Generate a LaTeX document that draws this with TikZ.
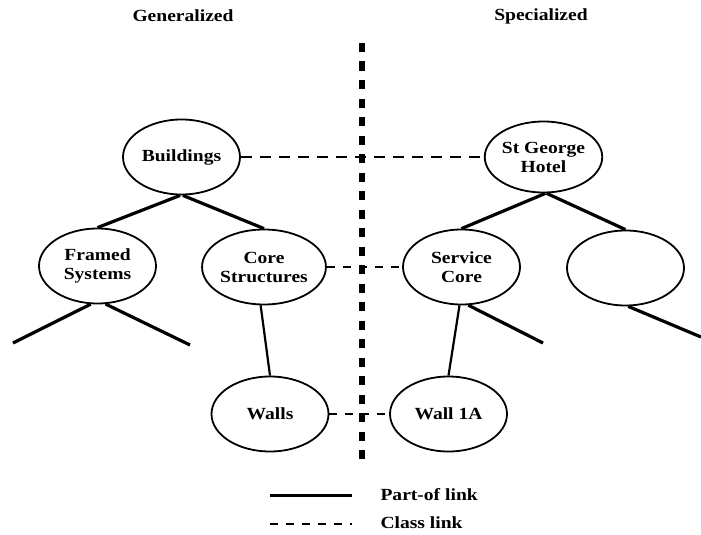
\documentclass[tikz,border=0pt]{standalone}
\usepackage{fontspec}
\setmainfont{Liberation Serif}[FakeStretch=1.15]
\usetikzlibrary{shapes.geometric}
\begin{document}
\begin{tikzpicture}[x=1pt,y=-1pt,
  every node/.style={font=\bfseries\fontsize{17}{19}\selectfont, align=center},
  concept/.style={ellipse, draw, line width=1.8pt, inner sep=0pt,
    minimum width=117pt, minimum height=75pt},
  partof/.style={line width=3.2pt},
  thinpart/.style={line width=2.2pt},
  classlink/.style={line width=2pt, dash pattern=on 8pt off 8pt},
  divider/.style={line width=6.5pt, dash pattern=on 9pt off 9.5pt}]
\useasboundingbox (0,0) rectangle (701,535);

% column headings
\node (gen) at (183,16) {Generalized};
\node (spec) at (541,16) {Specialized};

% boundary between the generalized and specialized sides
\coordinate (divtop) at (362,43);
\coordinate (divbot) at (362,462);
\draw[divider] (divtop) -- (divbot);

% concept nodes
\node[concept] (bld) at (181.5,157) {Buildings};
\node[concept, minimum height=71pt] (stg) at (543.5,157) {St George\\Hotel};
\node[concept] (fra) at (97.5,266) {Framed\\Systems};
\node[concept] (cor) at (264,267) {Core\\Structures};
\node[concept] (svc) at (461.5,267) {Service\\Core};
\node[concept] (emp) at (625.5,268) {};
\node[concept] (wal) at (270,414) {Walls};
\node[concept] (w1a) at (448.5,414) {Wall 1A};

% loose ends of the part-of tree
\coordinate (fraL) at (13,343);
\coordinate (fraR) at (190,345);
\coordinate (svcR) at (543,343);
\coordinate (empR) at (701,337);

% part-of links
\draw[partof] (bld.-92) -- (fra.north);
\draw[partof] (bld.-88) -- (cor.north);
\draw[partof] (fra.-100) -- (fraL);
\draw[partof] (fra.-78) -- (fraR);
\draw[thinpart] (cor.-95) -- (wal.north);
\draw[partof] (stg.-87) -- (svc.north);
\draw[partof] (stg.-85) -- (emp.north);
\draw[partof] (svc.-80) -- (svcR);
\draw[thinpart] (svc.-93) -- (w1a.north);
\draw[partof] (emp.-86) -- (empR);

% class links
\draw[classlink, dash pattern=on 11pt off 8pt] (bld.east) -- (stg.west);
\draw[classlink] (cor.east) -- (svc.west);
\draw[classlink] (wal.east) -- (w1a.west);

% legend
\coordinate (legAa) at (270,495.5);
\coordinate (legAb) at (352,495.5);
\coordinate (legBa) at (270,523.5);
\coordinate (legBb) at (352,523.5);
\draw[thinpart] (legAa) -- (legAb);
\draw[classlink] (legBa) -- (legBb);
\node[anchor=west] (legA) at (377,495) {Part-of link};
\node[anchor=west] (legB) at (377,523) {Class link};
\end{tikzpicture}
\end{document}
